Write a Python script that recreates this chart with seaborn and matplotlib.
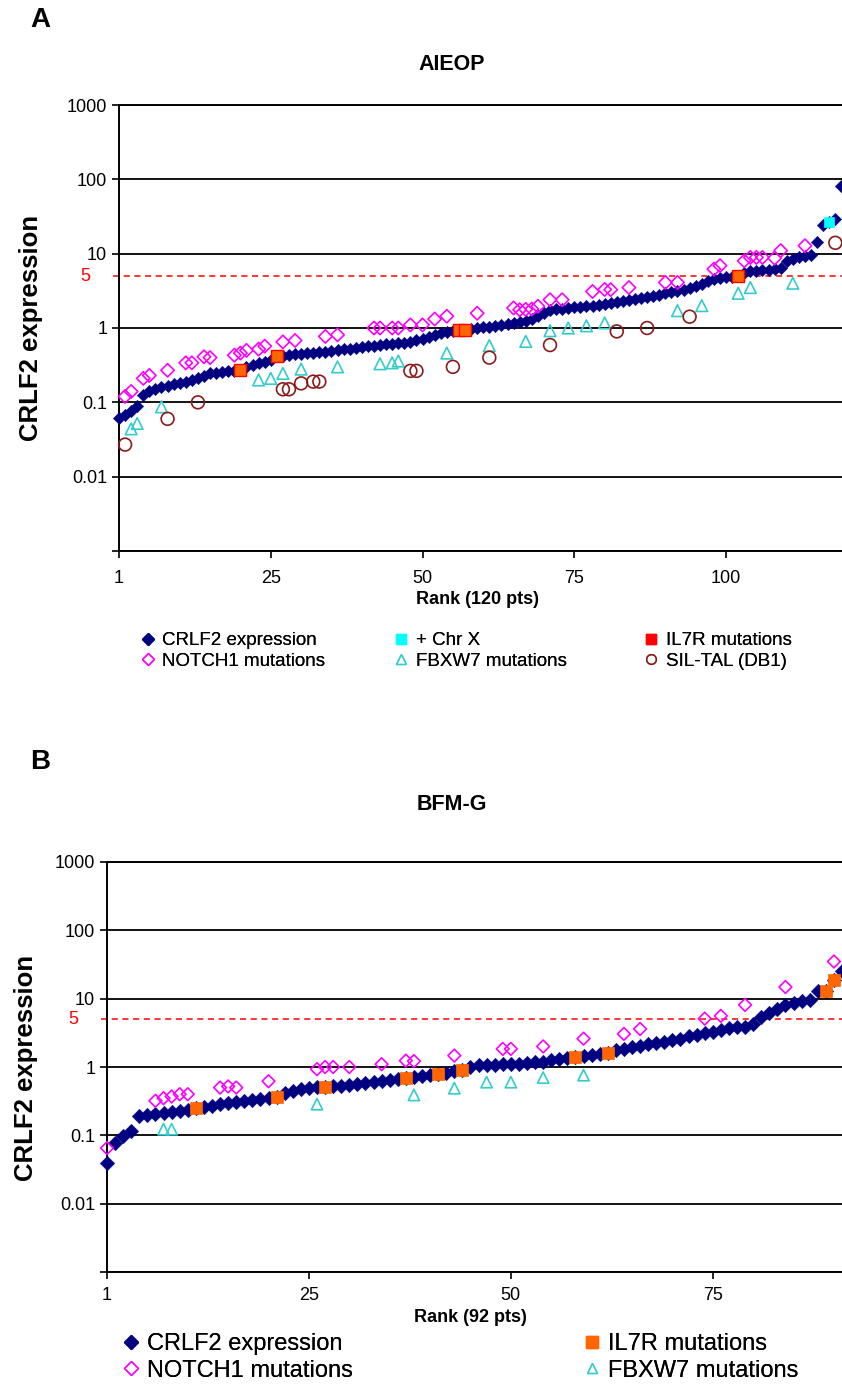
import matplotlib
matplotlib.use("Agg")
import matplotlib.pyplot as plt
import matplotlib.transforms as mtransforms
import seaborn as sns
from matplotlib.lines import Line2D
from matplotlib.ticker import FixedLocator, FixedFormatter, NullLocator

# ---------------- panel A : AIEOP, 120 patients (sorted CRLF2 expression)
aieop_crlf2 = [0.062, 0.068, 0.076, 0.088, 0.125, 0.140, 0.152, 0.160, 0.168, 0.174,
               0.180, 0.188, 0.198, 0.210, 0.228, 0.245, 0.250, 0.256, 0.262, 0.266,
               0.270, 0.300, 0.320, 0.335, 0.350, 0.370, 0.415, 0.425, 0.435, 0.445,
               0.452, 0.460, 0.468, 0.475, 0.480, 0.490, 0.505, 0.515, 0.525, 0.540,
               0.555, 0.570, 0.580, 0.590, 0.600, 0.610, 0.620, 0.635, 0.650, 0.680,
               0.720, 0.760, 0.800, 0.860, 0.880, 0.920, 0.930, 0.940, 0.970, 1.00,
               1.02, 1.04, 1.07, 1.10, 1.14, 1.17, 1.20, 1.25, 1.32, 1.45,
               1.60, 1.72, 1.78, 1.82, 1.86, 1.90, 1.93, 1.97, 2.00, 2.05,
               2.10, 2.18, 2.25, 2.30, 2.35, 2.42, 2.50, 2.58, 2.68, 2.80,
               2.95, 3.05, 3.15, 3.20, 3.40, 3.65, 3.90, 4.30, 4.60, 4.75,
               4.85, 4.90, 4.95, 5.50, 5.80, 5.90, 6.00, 6.10, 6.20, 6.40,
               8.00, 8.60, 9.00, 9.20, 9.50, 14.5, 24.0, 26.5, 29.0, 82.0]
aieop_il7r_rank = [21, 27, 57, 58, 103]
aieop_chrx_rank = [118]
aieop_notch1_rank = [2, 3, 5, 6, 9, 12, 13, 15, 16, 20, 21, 22, 24, 25, 28, 30, 35, 37,
                     43, 44, 46, 47, 49, 51, 53, 55, 60, 66, 67, 68, 69, 70, 72, 74,
                     79, 81, 82, 85, 91, 93, 99, 100, 104, 105, 106, 107, 109, 110, 114]
aieop_notch1_val = [0.12, 0.14, 0.21, 0.23, 0.27, 0.34, 0.34, 0.41, 0.40, 0.43, 0.46, 0.50,
                    0.52, 0.57, 0.65, 0.68, 0.77, 0.81, 1.0, 1.0, 1.0, 1.0, 1.1, 1.1, 1.32,
                    1.44, 1.58, 1.86, 1.76, 1.78, 1.80, 1.96, 2.4, 2.4, 3.1, 3.3, 3.28, 3.5,
                    4.1, 4.1, 6.2, 6.9, 8.0, 8.9, 8.9, 8.9, 8.7, 11.0, 12.8]
aieop_fbxw7_rank = [3, 4, 8, 24, 26, 28, 31, 37, 44, 46, 47, 55, 62, 68, 72, 75, 78, 81,
                    93, 97, 103, 105, 112]
aieop_fbxw7_val = [0.044, 0.052, 0.087, 0.20, 0.21, 0.245, 0.28, 0.30, 0.33, 0.34, 0.36,
                   0.46, 0.58, 0.66, 0.92, 1.0, 1.07, 1.17, 1.71, 2.0, 2.93, 3.5, 4.0]
aieop_siltal_rank = [2, 9, 14, 28, 29, 31, 33, 34, 49, 50, 56, 62, 72, 83, 88, 95, 119]
aieop_siltal_val = [0.027, 0.06, 0.10, 0.15, 0.15, 0.18, 0.19, 0.19, 0.265, 0.265, 0.30,
                    0.40, 0.59, 0.90, 1.0, 1.42, 14.0]

# ---------------- panel B : BFM-G, 92 patients
bfm_crlf2 = [0.040, 0.078, 0.098, 0.115, 0.190, 0.198, 0.204, 0.210, 0.218, 0.226,
             0.235, 0.248, 0.262, 0.272, 0.283, 0.293, 0.303, 0.318, 0.333, 0.345,
             0.355, 0.370, 0.410, 0.440, 0.470, 0.495, 0.505, 0.510, 0.520, 0.530,
             0.545, 0.560, 0.580, 0.600, 0.620, 0.640, 0.670, 0.700, 0.720, 0.745,
             0.770, 0.790, 0.830, 0.870, 0.900, 1.00, 1.06, 1.07, 1.08, 1.09,
             1.10, 1.12, 1.14, 1.17, 1.20, 1.26, 1.32, 1.36, 1.39, 1.46,
             1.52, 1.56, 1.60, 1.75, 1.85, 1.95, 2.05, 2.15, 2.25, 2.35,
             2.45, 2.60, 2.80, 2.95, 3.10, 3.30, 3.50, 3.75, 3.80, 3.85,
             4.20, 5.40, 6.20, 7.00, 8.00, 8.60, 9.20, 9.60, 12.8, 13.0,
             18.5, 25.0]
bfm_il7r_rank = [12, 22, 28, 38, 42, 45, 59, 63, 90, 91]
bfm_notch1_rank = [1, 7, 8, 9, 10, 11, 15, 16, 17, 21, 27, 28, 29, 31, 35, 38, 39, 44,
                   50, 51, 55, 60, 65, 67, 75, 77, 80, 85, 91]
bfm_notch1_val = [0.065, 0.32, 0.35, 0.37, 0.40, 0.40, 0.50, 0.52, 0.50, 0.62, 0.93, 1.0,
                  1.0, 1.0, 1.1, 1.24, 1.22, 1.47, 1.84, 1.84, 2.0, 2.6, 3.05, 3.6, 5.1,
                  5.6, 8.1, 14.8, 35.0]
bfm_fbxw7_rank = [8, 9, 27, 39, 44, 48, 51, 55, 60]
bfm_fbxw7_val = [0.123, 0.123, 0.286, 0.39, 0.49, 0.60, 0.60, 0.70, 0.76]

y_ticks = [1e-3, 1e-2, 1e-1, 1, 10, 100, 1000]
y_ticklabels = ['', '0.01', '0.1', '1', '10', '100', '1000']

NAVY = '#000080'
MAGENTA = '#FF00FF'
TEAL = '#33CCCC'
DARKRED = '#8B1A1A'
ORANGE = '#FF6600'

sns.set_style('white')
plt.rcParams['font.family'] = ['Liberation Sans', 'DejaVu Sans']
plt.rcParams['text.color'] = 'black'
plt.rcParams['axes.labelcolor'] = 'black'

W, H = 842, 1390
fig = plt.figure(figsize=(W / 100, H / 100), dpi=100)


def px_axes(left, top, right, bottom):
    return fig.add_axes([left / W, 1 - bottom / H, (right - left) / W, (bottom - top) / H])


def style_axis(ax, xmax, xticks, xticklabels, xpad):
    ax.set_yscale('log')
    ax.set_ylim(1e-3, 1e3)
    ax.set_xlim(1, xmax)
    ax.yaxis.set_major_locator(FixedLocator(y_ticks))
    ax.yaxis.set_major_formatter(FixedFormatter(y_ticklabels))
    ax.yaxis.set_minor_locator(NullLocator())
    ax.set_xticks(xticks)
    ax.set_xticklabels(xticklabels)
    ax.grid(axis='y', color='black', lw=1.3, zorder=0)
    ax.grid(axis='x', visible=False)
    ax.set_axisbelow(True)
    for side in ['left', 'bottom', 'top']:
        ax.spines[side].set_color('black')
        ax.spines[side].set_linewidth(1.4)
    ax.spines['right'].set_visible(False)
    ax.tick_params(axis='both', which='major', direction='out', length=5, width=1.2,
                   labelsize=13, colors='black', left=True, bottom=True)
    ax.tick_params(axis='x', pad=xpad)
    ax.axhline(5, xmin=-0.008, xmax=1, color='red', ls=(0, (4, 3)), lw=1.1,
               clip_on=False, zorder=1)
    trans = mtransforms.blended_transform_factory(ax.transAxes, ax.transData)
    ax.text(-0.039, 5, '5', transform=trans, color='red', ha='right', va='center',
            fontsize=13)
    ax.set_xlabel('')
    ax.set_ylabel('')


# ---------------- panel A
axA = px_axes(119, 105, 842, 551)
ranksA = list(range(1, len(aieop_crlf2) + 1))
sns.scatterplot(x=ranksA, y=aieop_crlf2, ax=axA, marker='D', s=40, color=NAVY,
                edgecolor=NAVY, linewidth=0.3, clip_on=False, zorder=3)
sns.scatterplot(x=aieop_il7r_rank, y=[aieop_crlf2[r - 1] for r in aieop_il7r_rank], ax=axA,
                marker='s', s=75, color=ORANGE, edgecolor='red', linewidth=1.0,
                clip_on=False, zorder=4)
sns.scatterplot(x=aieop_chrx_rank, y=[aieop_crlf2[r - 1] for r in aieop_chrx_rank], ax=axA,
                marker='s', s=60, color='#00FFFF', edgecolor='#00FFFF', linewidth=0.5,
                clip_on=False, zorder=4)
sns.scatterplot(x=aieop_notch1_rank, y=aieop_notch1_val, ax=axA, marker='D', s=46,
                color=MAGENTA, facecolor='none', edgecolor=MAGENTA, linewidth=1.2,
                clip_on=False, zorder=5)
sns.scatterplot(x=aieop_fbxw7_rank, y=aieop_fbxw7_val, ax=axA, marker='^', s=70,
                color=TEAL, facecolor='none', edgecolor=TEAL, linewidth=1.2,
                clip_on=False, zorder=5)
sns.scatterplot(x=aieop_siltal_rank, y=aieop_siltal_val, ax=axA, marker='o', s=85,
                color=DARKRED, facecolor='none', edgecolor=DARKRED, linewidth=1.2,
                clip_on=False, zorder=5)
style_axis(axA, 120.1, [1, 26, 51, 76, 101], ['1', '25', '50', '75', '100'], 9)

# ---------------- panel B
axB = px_axes(107, 862, 842, 1272)
ranksB = list(range(1, len(bfm_crlf2) + 1))
sns.scatterplot(x=ranksB, y=bfm_crlf2, ax=axB, marker='D', s=55, color=NAVY,
                edgecolor=NAVY, linewidth=0.3, clip_on=False, zorder=3)
sns.scatterplot(x=bfm_il7r_rank, y=[bfm_crlf2[r - 1] for r in bfm_il7r_rank], ax=axB,
                marker='s', s=80, color=ORANGE, edgecolor=ORANGE, linewidth=0.5,
                clip_on=False, zorder=4)
sns.scatterplot(x=bfm_notch1_rank, y=bfm_notch1_val, ax=axB, marker='D', s=42,
                color=MAGENTA, facecolor='none', edgecolor=MAGENTA, linewidth=1.2,
                clip_on=False, zorder=5)
sns.scatterplot(x=bfm_fbxw7_rank, y=bfm_fbxw7_val, ax=axB, marker='^', s=66,
                color=TEAL, facecolor='none', edgecolor=TEAL, linewidth=1.2,
                clip_on=False, zorder=5)
style_axis(axB, 92.0, [1, 26, 51, 76], ['1', '25', '50', '75'], 6)


# ---------------- texts
def ftext(x, y, s, **kw):
    fig.text(x / W, 1 - y / H, s, ha='center', va='center', **kw)


ftext(40, 20, 'A', fontsize=20, fontweight='bold')
ftext(452, 65, 'AIEOP', fontsize=15.5, fontweight='bold')
ftext(31, 328, 'CRLF2 expression', fontsize=18.5, fontweight='bold', rotation=90)
ftext(477, 600, 'Rank (120 pts)', fontsize=13, fontweight='bold')

ftext(40, 762, 'B', fontsize=20, fontweight='bold')
ftext(452, 805, 'BFM-G', fontsize=15.5, fontweight='bold')
ftext(26, 1068, 'CRLF2 expression', fontsize=18.5, fontweight='bold', rotation=90)
ftext(470, 1318, 'Rank (92 pts)', fontsize=13, fontweight='bold')


def h(marker, color, face=True, ms=7):
    return Line2D([], [], ls='none', marker=marker, ms=ms,
                  markerfacecolor=color if face else 'none', markeredgecolor=color,
                  markeredgewidth=1.0)


def legend_column(handles, labels, x, y, fontsize, handlelength=0.8, handletextpad=0.4,
                  labelspacing=0.2):
    leg = fig.legend(handles=handles, labels=labels, loc='upper left',
                     bbox_to_anchor=(x / W, 1 - y / H), frameon=False, fontsize=fontsize,
                     handlelength=handlelength, handletextpad=handletextpad,
                     labelspacing=labelspacing, borderaxespad=0, borderpad=0)
    fig.add_artist(leg)


# legend A, three columns
legend_column([h('D', NAVY, ms=6), h('D', MAGENTA, False, ms=6)],
              ['CRLF2 expression', 'NOTCH1 mutations'], 140, 632, 13.5)
legend_column([h('s', '#00FFFF'), h('^', TEAL, False)],
              ['+ Chr X', 'FBXW7 mutations'], 393, 632, 13.5)
legend_column([h('s', 'red'), h('o', DARKRED, False)],
              ['IL7R mutations', 'SIL-TAL (DB1)'], 643, 632, 13.5)

# legend B, two columns
legend_column([h('D', NAVY, ms=7), h('D', MAGENTA, False, ms=7)],
              ['CRLF2 expression', 'NOTCH1 mutations'], 123, 1333, 17,
              handlelength=0.7, handletextpad=0.3)
legend_column([h('s', ORANGE, ms=8), h('^', TEAL, False, ms=7)],
              ['IL7R mutations', 'FBXW7 mutations'], 584, 1333, 17,
              handlelength=0.7, handletextpad=0.3)

fig.savefig('out.png', dpi=100)
